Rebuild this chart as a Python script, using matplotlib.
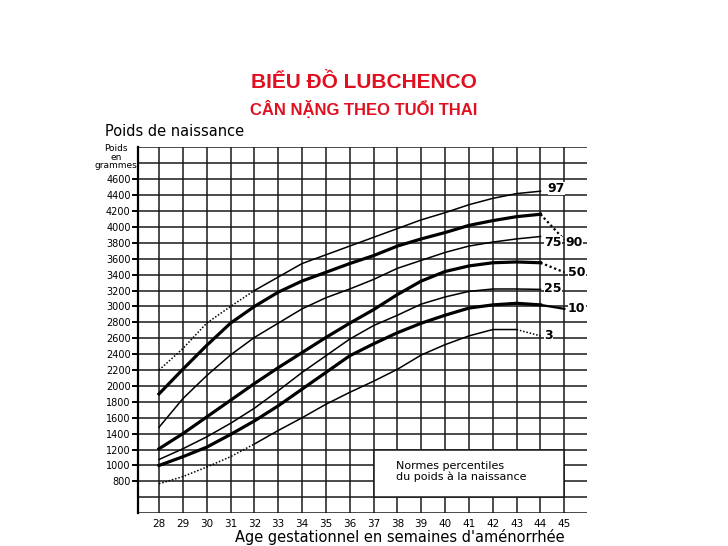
import matplotlib
matplotlib.use("Agg")
import matplotlib.pyplot as plt
from matplotlib.patches import Rectangle

# weeks of gestation and birth weight percentiles (g)
weeks = list(range(28, 45))
p97 = [2200, 2470, 2790, 3000, 3200, 3370, 3540, 3650, 3760, 3870, 3980, 4090, 4180, 4280, 4360, 4420, 4450]
p90 = [1900, 2210, 2510, 2790, 3000, 3180, 3320, 3430, 3540, 3640, 3760, 3850, 3930, 4020, 4080, 4130, 4160]
p75 = [1480, 1840, 2130, 2390, 2610, 2790, 2970, 3110, 3220, 3340, 3480, 3580, 3680, 3760, 3810, 3850, 3880]
p50 = [1210, 1400, 1610, 1820, 2030, 2230, 2420, 2610, 2790, 2960, 3150, 3320, 3440, 3510, 3550, 3560, 3550]
p25 = [1075, 1210, 1360, 1530, 1720, 1940, 2170, 2380, 2590, 2760, 2890, 3030, 3120, 3190, 3220, 3220, 3215]
p10 = [1000, 1110, 1230, 1390, 1560, 1750, 1960, 2170, 2380, 2530, 2670, 2790, 2890, 2980, 3020, 3040, 3020]
p3 = [770, 860, 980, 1110, 1270, 1440, 1600, 1770, 1920, 2060, 2210, 2390, 2520, 2630, 2710, 2710]

# dotted extensions at the right end
tail_weeks = [44, 45]
tail90 = [4160, 3840]
tail50 = [3550, 3430]
tail10 = [3020, 2970]
tail3_weeks = [43, 44]
tail3 = [2710, 2630]

x_ticks = list(range(28, 46))
y_ticks = list(range(800, 4601, 200))

labels = ["97", "90", "75", "50", "25", "10", "3"]
label_pos = [(44.3, 4480), (45.05, 3810), (44.15, 3800), (45.15, 3430),
             (44.15, 3220), (45.15, 2980), (44.15, 2630)]

fig = plt.figure(figsize=(7.28, 5.46), dpi=100)
ax = fig.add_axes([0.1889, 0.0601, 0.6174, 0.6698])
ax.set_xlim(27.1, 45.95)
ax.set_ylim(400, 5000)

grid_c = "#1a1a1a"
for w in range(28, 47):
    ax.axvline(w, color=grid_c, lw=1.1, zorder=1)
for g in range(400, 5001, 200):
    ax.axhline(g, color=grid_c, lw=1.1, zorder=1)

for s in ["top", "right", "bottom"]:
    ax.spines[s].set_visible(False)
ax.spines["left"].set_linewidth(1.6)

thick = 2.3
thin = 1.1
dots = (0, (1, 1.2))

ax.plot(weeks[:5], p97[:5], color="black", lw=thin, ls=dots, zorder=4)
ax.plot(weeks[4:], p97[4:], color="black", lw=thin, zorder=4)
ax.plot(weeks, p90, color="black", lw=thick, zorder=4)
ax.plot(tail_weeks, tail90, color="black", lw=1.6, ls=dots, zorder=4)
ax.plot(weeks, p75, color="black", lw=thin, zorder=4)
ax.plot(weeks, p50, color="black", lw=thick, zorder=4)
ax.plot(tail_weeks, tail50, color="black", lw=1.6, ls=dots, zorder=4)
ax.plot(weeks, p25, color="black", lw=thin, zorder=4)
ax.plot(weeks, p10, color="black", lw=thick, zorder=4)
ax.plot(tail_weeks, tail10, color="black", lw=1.6, zorder=4)
ax.plot(weeks[:5], p3[:5], color="black", lw=thin, ls=dots, zorder=4)
ax.plot(weeks[4:16], p3[4:], color="black", lw=thin, zorder=4)
ax.plot(tail3_weeks, tail3, color="black", lw=thin, ls=dots, zorder=4)

for lab, (lx, ly) in zip(labels, label_pos):
    ax.text(lx, ly, lab, fontsize=9, fontweight="bold", ha="left", va="center",
            zorder=6, bbox=dict(facecolor="white", edgecolor="none", pad=0.1))

ax.add_patch(Rectangle((37, 600), 8, 600, facecolor="white", edgecolor=grid_c,
                       lw=1.1, zorder=3))
ax.text(37.95, 995, "Normes percentiles", fontsize=8, ha="left", va="center", zorder=5)
ax.text(37.95, 855, "du poids à la naissance", fontsize=8, ha="left", va="center", zorder=5)

ax.set_xticks(x_ticks)
ax.set_xticklabels([str(v) for v in x_ticks], fontsize=7.5)
ax.tick_params(axis="x", length=0, pad=4)
ax.set_yticks(y_ticks)
ax.set_yticklabels([str(v) for v in y_ticks], fontsize=7)
ax.tick_params(axis="y", length=4, width=1.4, pad=1)

fig.text(0.5, 1 - 83 / 546, "BIỂU ĐỒ LUBCHENCO", color="#e01020", fontsize=15,
         fontweight="bold", family="Liberation Sans", ha="center", va="center")
fig.text(0.5, 1 - 109 / 546, "CÂN NẶNG THEO TUỔI THAI", color="#e01020", fontsize=12,
         fontweight="bold", family="Liberation Sans", ha="center", va="center")

fig.text(105 / 728, 1 - 132 / 546, "Poids de naissance", fontsize=10.5,
         ha="left", va="center")
fig.text(116 / 728, 1 - 144 / 546, "Poids\nen\ngrammes", fontsize=6.5,
         ha="center", va="top", linespacing=0.95)
fig.text(235 / 728, 1 - 537 / 546, "Age gestationnel en semaines d'aménorrhée",
         fontsize=10.5, ha="left", va="center")

fig.savefig("out.png", dpi=100, facecolor="white")
